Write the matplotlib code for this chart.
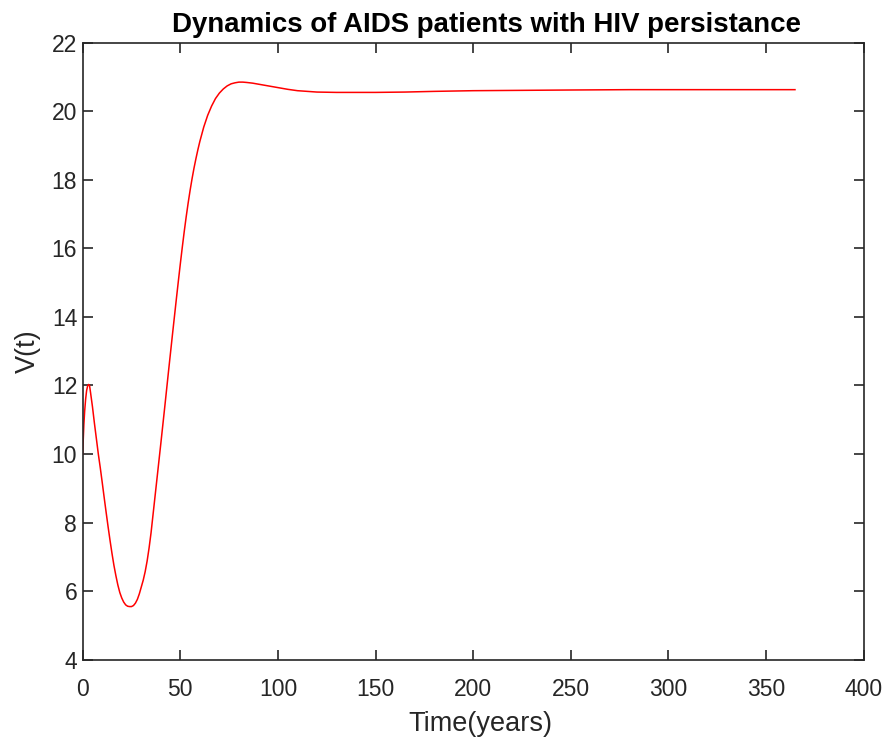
import matplotlib
matplotlib.use("Agg")
import matplotlib.pyplot as plt

# Data
t_years = [0, 0.3, 0.6, 1.0, 1.5, 2.0, 2.5, 3.0, 3.5, 4, 5, 6, 7, 8, 9, 10, 11, 12,
           13, 14, 15, 16, 17, 18, 19, 20, 21, 22, 23, 24, 25, 26, 27, 28, 29, 30,
           31, 32, 33, 34, 35, 36, 37, 38, 39, 40, 41, 42, 43, 44, 45, 46, 47, 48,
           49, 50, 51, 52, 53, 54, 55, 56, 57, 58, 59, 60, 62, 64, 66, 68, 70, 72,
           74, 76, 78, 80, 82, 84, 87, 90, 95, 100, 105, 110, 115, 120, 130, 140,
           150, 165, 180, 200, 225, 250, 280, 320, 364.8]
v_values = [10.0, 10.45, 10.86, 11.25, 11.6, 11.85, 11.98, 12.03, 12.0, 11.8,
            11.38, 10.9, 10.45, 10.0, 9.6, 9.17, 8.73, 8.3, 7.88, 7.48, 7.1, 6.75,
            6.45, 6.18, 5.96, 5.8, 5.68, 5.6, 5.56, 5.55, 5.55, 5.58, 5.65, 5.76,
            5.92, 6.12, 6.32, 6.57, 6.88, 7.26, 7.7, 8.22, 8.74, 9.26, 9.78, 10.3,
            10.83, 11.36, 11.9, 12.44, 12.97, 13.5, 14.02, 14.54, 15.05, 15.55,
            16.03, 16.49, 16.92, 17.32, 17.69, 18.03, 18.34, 18.62, 18.88, 19.12,
            19.54, 19.88, 20.15, 20.37, 20.53, 20.65, 20.74, 20.8, 20.83, 20.85,
            20.85, 20.84, 20.82, 20.79, 20.74, 20.69, 20.64, 20.6, 20.58, 20.56,
            20.55, 20.55, 20.55, 20.56, 20.58, 20.6, 20.61, 20.62, 20.63, 20.63,
            20.63]
x_ticks = [0, 50, 100, 150, 200, 250, 300, 350, 400]
y_ticks = [4, 6, 8, 10, 12, 14, 16, 18, 20, 22]

plt.rcParams['font.family'] = ['Liberation Sans', 'DejaVu Sans']

W, H = 890, 738
fig = plt.figure(figsize=(W / 100, H / 100), dpi=100)
left, right, top, bottom = 82.7, 863.7, 42.7, 659.7
ax = fig.add_axes([left / W, 1 - bottom / H, (right - left) / W, (bottom - top) / H])

ax.plot(t_years, v_values, color='#ff0000', linewidth=1.1)

ax.set_xlim(0, 400)
ax.set_ylim(4, 22)
ax.set_xticks(x_ticks)
ax.set_yticks(y_ticks)

dark = '#262626'
for s in ax.spines.values():
    s.set_linewidth(1.2)
    s.set_color(dark)
ax.tick_params(direction='in', length=7, width=1.2, color=dark,
               top=True, right=True, labelsize=16.5, labelcolor=dark)
ax.tick_params(axis='x', pad=13)
ax.tick_params(axis='y', pad=4)

ax.set_xlabel('Time(years)', fontsize=19.5, color=dark, labelpad=6)
ax.xaxis.set_label_coords(0.509, -0.083)
ax.set_ylabel('V(t)', fontsize=19.5, color=dark, labelpad=8)
ax.set_title('Dynamics of AIDS patients with HIV persistance', fontsize=19.9,
             fontweight='bold', color='black', pad=8, x=0.517)

fig.savefig('out.png', dpi=100)
